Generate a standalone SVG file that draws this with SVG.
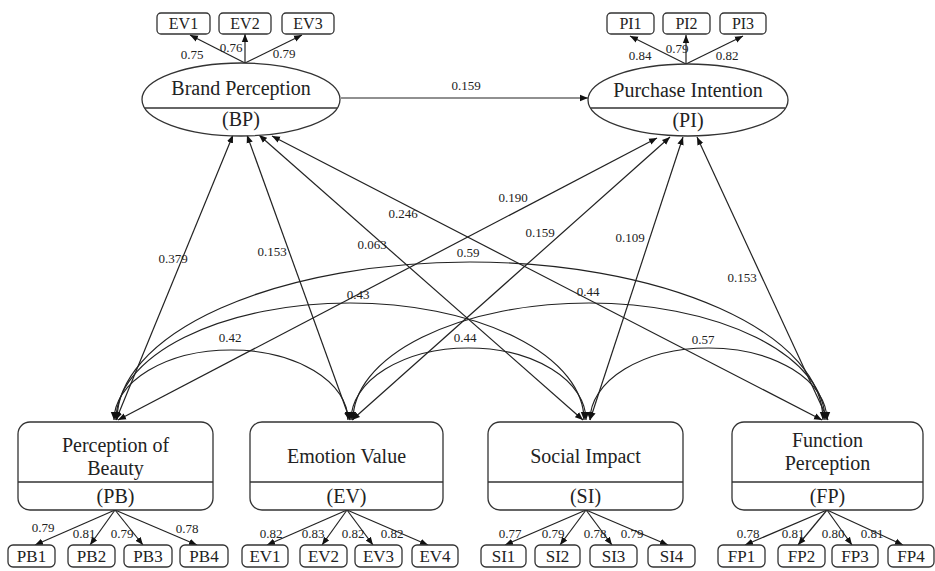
<svg xmlns="http://www.w3.org/2000/svg" width="935" height="571" viewBox="0 0 935 571">
<style>
text{font-family:"Liberation Serif","Times New Roman",serif;fill:#222;text-anchor:middle}
.lat{font-size:20px}
.ind{font-size:16px}
.indb{font-size:17px}
.c{font-size:13px}
.shape{fill:#fff;stroke:#333;stroke-width:1.3}
.div{stroke:#333;stroke-width:1.3}
.ln{fill:none;stroke:#222;stroke-width:1.2}
.s{marker-end:url(#ah)}
.d{marker-start:url(#ah);marker-end:url(#ah)}
</style>
<defs>
<marker id="ah" viewBox="0 0 10 10" refX="10" refY="5" markerWidth="8" markerHeight="8" markerUnits="userSpaceOnUse" orient="auto-start-reverse"><path d="M0,1 L10,5 L0,9 z" fill="#111"/></marker>
</defs>
<rect width="935" height="571" fill="#fff"/>

<g id="connectors">
<!-- measurement arrows top -->
<line class="ln s" x1="245" y1="63" x2="190" y2="35"/>
<line class="ln s" x1="245" y1="63" x2="245" y2="34"/>
<line class="ln s" x1="245" y1="63" x2="302" y2="35"/>
<line class="ln s" x1="686" y1="64" x2="630" y2="36"/>
<line class="ln s" x1="686" y1="64" x2="686" y2="35"/>
<line class="ln s" x1="686" y1="64" x2="743" y2="36"/>
<!-- measurement arrows bottom -->
<line class="ln s" x1="115" y1="510" x2="35" y2="545"/>
<line class="ln s" x1="115" y1="510" x2="90" y2="545"/>
<line class="ln s" x1="115" y1="510" x2="143" y2="545"/>
<line class="ln s" x1="115" y1="510" x2="197" y2="545"/>
<line class="ln s" x1="347" y1="510" x2="267" y2="545"/>
<line class="ln s" x1="347" y1="510" x2="322" y2="545"/>
<line class="ln s" x1="347" y1="510" x2="373" y2="545"/>
<line class="ln s" x1="347" y1="510" x2="428" y2="545"/>
<line class="ln s" x1="586" y1="510" x2="505" y2="545"/>
<line class="ln s" x1="586" y1="510" x2="560" y2="545"/>
<line class="ln s" x1="586" y1="510" x2="612" y2="545"/>
<line class="ln s" x1="586" y1="510" x2="668" y2="545"/>
<line class="ln s" x1="827" y1="510" x2="745" y2="545"/>
<line class="ln s" x1="827" y1="510" x2="798" y2="545"/>
<line class="ln s" x1="827" y1="510" x2="852" y2="545"/>
<line class="ln s" x1="827" y1="510" x2="903" y2="545"/>
<!-- BP -> PI -->
<line class="ln s" x1="341" y1="98" x2="588" y2="98"/>
<!-- structural paths -->
<line class="ln d" x1="116" y1="420" x2="233" y2="135"/>
<line class="ln d" x1="118" y1="420" x2="657" y2="138"/>
<line class="ln d" x1="350" y1="420" x2="247" y2="135"/>
<line class="ln d" x1="352" y1="420" x2="670" y2="137"/>
<line class="ln d" x1="583" y1="420" x2="259" y2="135"/>
<line class="ln d" x1="590" y1="420" x2="683" y2="137"/>
<line class="ln d" x1="822" y1="420" x2="272" y2="136"/>
<line class="ln d" x1="828" y1="420" x2="697" y2="137"/>
<!-- covariances -->
<path class="ln d" d="M114,420 A117,70 0 0 1 348,420"/>
<path class="ln d" d="M116,420 A234,117 0 0 1 584,420"/>
<path class="ln d" d="M117,420 A353,158 0 0 1 823,420"/>
<path class="ln d" d="M351,420 A117.5,72 0 0 1 586,420"/>
<path class="ln d" d="M353,420 A236,117 0 0 1 825,420"/>
<path class="ln d" d="M590,420 A118.5,72 0 0 1 827,420"/>
<!-- coefficient labels -->
<text class="c" x="192" y="59">0.75</text>
<text class="c" x="231" y="52">0.76</text>
<text class="c" x="284" y="58">0.79</text>
<text class="c" x="640" y="60">0.84</text>
<text class="c" x="677" y="53">0.79</text>
<text class="c" x="727" y="60">0.82</text>
<text class="c" x="466" y="90">0.159</text>
<text class="c" x="173" y="263">0.379</text>
<text class="c" x="272" y="256">0.153</text>
<text class="c" x="372" y="249">0.063</text>
<text class="c" x="403" y="218">0.246</text>
<text class="c" x="513" y="202">0.190</text>
<text class="c" x="540" y="237">0.159</text>
<text class="c" x="630" y="242">0.109</text>
<text class="c" x="742" y="282">0.153</text>
<text class="c" x="468" y="257">0.59</text>
<text class="c" x="358" y="299">0.43</text>
<text class="c" x="230" y="342">0.42</text>
<text class="c" x="588" y="296">0.44</text>
<text class="c" x="465" y="342">0.44</text>
<text class="c" x="703" y="344">0.57</text>
<text class="c" x="43" y="532">0.79</text>
<text class="c" x="84" y="538">0.81</text>
<text class="c" x="122" y="538">0.79</text>
<text class="c" x="187" y="533">0.78</text>
<text class="c" x="271" y="538">0.82</text>
<text class="c" x="313" y="538">0.83</text>
<text class="c" x="353" y="538">0.82</text>
<text class="c" x="392" y="538">0.82</text>
<text class="c" x="510" y="538">0.77</text>
<text class="c" x="553" y="538">0.79</text>
<text class="c" x="595" y="538">0.78</text>
<text class="c" x="632" y="538">0.79</text>
<text class="c" x="748" y="538">0.78</text>
<text class="c" x="793" y="538">0.81</text>
<text class="c" x="833" y="538">0.80</text>
<text class="c" x="872" y="538">0.81</text>
</g>

<g id="BP">
<ellipse class="shape" cx="241" cy="99.5" rx="99" ry="36.5"/>
<line class="div" x1="144.7" y1="108" x2="337.3" y2="108"/>
<text class="lat" x="241" y="95">Brand Perception</text>
<text class="lat" x="241" y="126">(BP)</text>
</g>
<g id="PI">
<ellipse class="shape" cx="688" cy="100" rx="100" ry="36"/>
<line class="div" x1="590.5" y1="108" x2="785.5" y2="108"/>
<text class="lat" x="688" y="97">Purchase Intention</text>
<text class="lat" x="688" y="127">(PI)</text>
</g>

<g id="BP_EV1"><rect class="shape" x="157" y="13" width="53" height="21" rx="4"/><text class="ind" x="183.5" y="29">EV1</text></g>
<g id="BP_EV2"><rect class="shape" x="219" y="13" width="52" height="21" rx="4"/><text class="ind" x="245" y="29">EV2</text></g>
<g id="BP_EV3"><rect class="shape" x="282" y="13" width="52" height="21" rx="4"/><text class="ind" x="308" y="29">EV3</text></g>
<g id="PI1"><rect class="shape" x="607" y="13" width="47" height="21" rx="4"/><text class="ind" x="630.5" y="29">PI1</text></g>
<g id="PI2"><rect class="shape" x="663" y="13" width="47" height="21" rx="4"/><text class="ind" x="686.5" y="29">PI2</text></g>
<g id="PI3"><rect class="shape" x="720" y="13" width="46" height="21" rx="4"/><text class="ind" x="743" y="29">PI3</text></g>

<g id="PB">
<rect class="shape" x="18" y="422" width="195" height="88" rx="12"/>
<line class="div" x1="18" y1="482" x2="213" y2="482"/>
<text class="lat" x="115.5" y="452">Perception of</text>
<text class="lat" x="115.5" y="475">Beauty</text>
<text class="lat" x="115.5" y="503">(PB)</text>
</g>
<g id="EV">
<rect class="shape" x="250" y="422" width="193" height="88" rx="12"/>
<line class="div" x1="250" y1="482" x2="443" y2="482"/>
<text class="lat" x="346.5" y="463">Emotion Value</text>
<text class="lat" x="346.5" y="503">(EV)</text>
</g>
<g id="SI">
<rect class="shape" x="488" y="422" width="195" height="88" rx="12"/>
<line class="div" x1="488" y1="482" x2="683" y2="482"/>
<text class="lat" x="585.5" y="463">Social Impact</text>
<text class="lat" x="585.5" y="503">(SI)</text>
</g>
<g id="FP">
<rect class="shape" x="732" y="422" width="191" height="88" rx="12"/>
<line class="div" x1="732" y1="482" x2="923" y2="482"/>
<text class="lat" x="827.5" y="447">Function</text>
<text class="lat" x="827.5" y="470">Perception</text>
<text class="lat" x="827.5" y="503">(FP)</text>
</g>

<g id="PB1"><rect class="shape" x="8" y="545" width="47" height="22" rx="5"/><text class="indb" x="31.5" y="562">PB1</text></g>
<g id="PB2"><rect class="shape" x="68" y="545" width="47" height="22" rx="5"/><text class="indb" x="91.5" y="562">PB2</text></g>
<g id="PB3"><rect class="shape" x="124" y="545" width="48" height="22" rx="5"/><text class="indb" x="148" y="562">PB3</text></g>
<g id="PB4"><rect class="shape" x="180" y="545" width="48" height="22" rx="5"/><text class="indb" x="204" y="562">PB4</text></g>
<g id="EV1"><rect class="shape" x="242" y="545" width="46" height="22" rx="5"/><text class="indb" x="265" y="562">EV1</text></g>
<g id="EV2"><rect class="shape" x="300" y="545" width="47" height="22" rx="5"/><text class="indb" x="323.5" y="562">EV2</text></g>
<g id="EV3"><rect class="shape" x="355" y="545" width="47" height="22" rx="5"/><text class="indb" x="378.5" y="562">EV3</text></g>
<g id="EV4"><rect class="shape" x="412" y="545" width="46" height="22" rx="5"/><text class="indb" x="435" y="562">EV4</text></g>
<g id="SI1"><rect class="shape" x="481" y="545" width="45" height="22" rx="5"/><text class="indb" x="503.5" y="562">SI1</text></g>
<g id="SI2"><rect class="shape" x="535" y="545" width="45" height="22" rx="5"/><text class="indb" x="557.5" y="562">SI2</text></g>
<g id="SI3"><rect class="shape" x="590" y="545" width="47" height="22" rx="5"/><text class="indb" x="613.5" y="562">SI3</text></g>
<g id="SI4"><rect class="shape" x="648" y="545" width="47" height="22" rx="5"/><text class="indb" x="671.5" y="562">SI4</text></g>
<g id="FP1"><rect class="shape" x="718" y="545" width="47" height="22" rx="5"/><text class="indb" x="741.5" y="562">FP1</text></g>
<g id="FP2"><rect class="shape" x="778" y="545" width="47" height="22" rx="5"/><text class="indb" x="801.5" y="562">FP2</text></g>
<g id="FP3"><rect class="shape" x="832" y="545" width="46" height="22" rx="5"/><text class="indb" x="855" y="562">FP3</text></g>
<g id="FP4"><rect class="shape" x="888" y="545" width="46" height="22" rx="5"/><text class="indb" x="911" y="562">FP4</text></g>
</svg>
